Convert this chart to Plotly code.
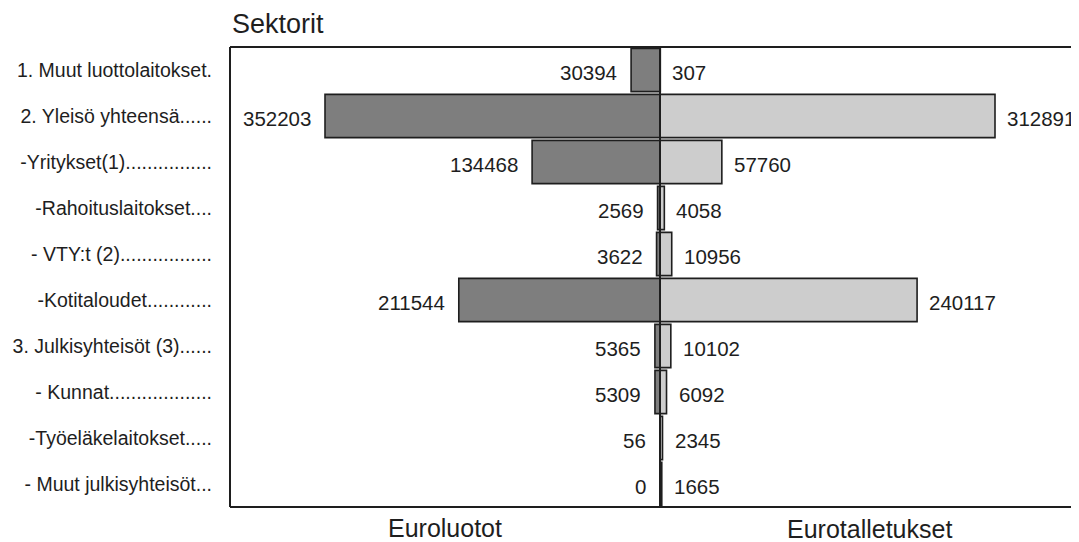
import plotly.graph_objects as go
from plotly.subplots import make_subplots

categories = [
    "1. Muut luottolaitokset.",
    "2. Yleisö yhteensä......",
    "-Yritykset(1)................",
    "-Rahoituslaitokset....",
    "- VTY:t (2).................",
    "-Kotitaloudet............",
    "3. Julkisyhteisöt (3)......",
    "- Kunnat...................",
    "-Työeläkelaitokset.....",
    "- Muut julkisyhteisöt...",
]
euroluotot = [30394, 352203, 134468, 2569, 3622, 211544, 5365, 5309, 56, 0]
eurotalletukset = [307, 312891, 57760, 4058, 10956, 240117, 10102, 6092, 2345, 1665]

title_text = "Sektorit"
left_title = "Euroluotot"
right_title = "Eurotalletukset"

FONT = "Liberation Sans, Arial, sans-serif"
INK = "#1e1e1e"

# page body has an 8px margin, so the figure is offset by 8px
W, H = 1071, 534
ML, MR, MT, MB = 222, 0, 39, 35
center_px = 652
plot_w = W - ML - MR
split = (center_px - ML) / plot_w

# each side scaled so that its largest bar is the same length
bar_px = 335
left_range = (center_px - ML) * max(euroluotot) / bar_px
right_range = (W - MR - center_px) * max(eurotalletukset) / bar_px

fig = make_subplots(rows=1, cols=2, shared_yaxes=True, horizontal_spacing=0)

fig.add_trace(go.Bar(
    y=categories, x=euroluotot, orientation="h",
    marker=dict(color="#7e7e7e", line=dict(color=INK, width=1.6)),
    showlegend=False, hoverinfo="x+y",
), row=1, col=1)
fig.add_trace(go.Bar(
    y=categories, x=eurotalletukset, orientation="h",
    marker=dict(color="#cdcdcd", line=dict(color=INK, width=1.6)),
    showlegend=False, hoverinfo="x+y",
), row=1, col=2)

annotations = []
for c, v in zip(categories, euroluotot):
    annotations.append(dict(x=v, y=c, xref="x", yref="y", text=str(v),
                            showarrow=False, xanchor="right", xshift=-12, yshift=-2,
                            font=dict(family=FONT, size=20.5, color=INK)))
for c, v in zip(categories, eurotalletukset):
    annotations.append(dict(x=v, y=c, xref="x2", yref="y", text=str(v),
                            showarrow=False, xanchor="left", xshift=10, yshift=-2,
                            font=dict(family=FONT, size=20.5, color=INK)))
annotations.append(dict(x=0, y=1, xref="paper", yref="paper", text=title_text,
                        showarrow=False, xanchor="left", yanchor="bottom",
                        xshift=0, yshift=6,
                        font=dict(family=FONT, size=27, color=INK)))
annotations.append(dict(x=split / 2, y=0, xref="paper", yref="paper", text=left_title,
                        showarrow=False, xanchor="center", yanchor="top", yshift=-5,
                        font=dict(family=FONT, size=25, color=INK)))
annotations.append(dict(x=(1 + split) / 2, y=0, xref="paper", yref="paper", text=right_title,
                        showarrow=False, xanchor="center", yanchor="top", yshift=-6,
                        font=dict(family=FONT, size=25, color=INK)))

shapes = [
    dict(type="line", xref="paper", yref="paper", x0=0, x1=0, y0=0, y1=1,
         line=dict(color=INK, width=2)),
    dict(type="line", xref="paper", yref="paper", x0=0, x1=1, y0=1, y1=1,
         line=dict(color=INK, width=2)),
    dict(type="line", xref="paper", yref="paper", x0=0, x1=1, y0=0, y1=0,
         line=dict(color=INK, width=2)),
    dict(type="line", xref="paper", yref="paper", x0=split, x1=split, y0=0, y1=1,
         line=dict(color=INK, width=2)),
]

fig.update_layout(
    width=W, height=H,
    margin=dict(l=ML, r=MR, t=MT, b=MB, pad=0, autoexpand=False),
    paper_bgcolor="white", plot_bgcolor="white",
    bargap=0.06,
    annotations=annotations, shapes=shapes,
    font=dict(family=FONT, color=INK),
    xaxis=dict(domain=[0, split], range=[left_range, 0], showgrid=False,
               zeroline=False, showticklabels=False, ticks="", automargin=False),
    xaxis2=dict(domain=[split, 1], range=[0, right_range], showgrid=False,
                zeroline=False, showticklabels=False, ticks="", automargin=False),
    yaxis=dict(autorange="reversed", showgrid=False, zeroline=False,
               ticks="", ticklabelstandoff=17, automargin=False,
               tickfont=dict(family=FONT, size=19.5, color=INK)),
)

fig.write_html("out.html")
